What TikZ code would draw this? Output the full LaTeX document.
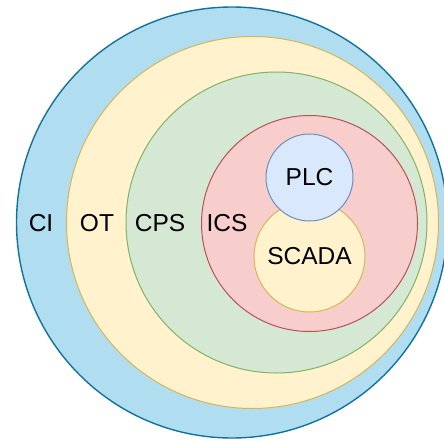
\documentclass[tikz,border=0pt]{standalone}
\usepackage{fontspec}
\setmainfont{Liberation Sans}
\usetikzlibrary{positioning}
\definecolor{ciFill}{HTML}{B1DDF0}
\definecolor{ciLine}{HTML}{10739E}
\definecolor{otFill}{HTML}{FFF2CC}
\definecolor{otLine}{HTML}{D6B656}
\definecolor{cpsFill}{HTML}{D5E8D4}
\definecolor{cpsLine}{HTML}{82B366}
\definecolor{icsFill}{HTML}{F8CECC}
\definecolor{icsLine}{HTML}{B85450}
\definecolor{plcFill}{HTML}{DAE8FC}
\definecolor{plcLine}{HTML}{6C8EBF}
\begin{document}
\begin{tikzpicture}[x=1pt, y=-1pt]
  \tikzstyle{ring}=[circle, draw, line width=1pt, inner sep=0pt]
  \tikzstyle{tag}=[font=\fontsize{24.5}{28}\selectfont, inner sep=0pt]
  \useasboundingbox (0,0) rectangle (444,439);
  \clip (0,0) rectangle (444,439);
  \node[ring, fill=ciFill, draw=ciLine, line width=1.4pt, minimum size=431pt] (CI) at (232,222.5) {};
  \node[ring, fill=otFill, draw=otLine, minimum size=372pt] (OT) at (252.5,222.5) {};
  \node[ring, fill=cpsFill, draw=cpsLine, minimum size=301pt] (CPS) at (276.5,222.5) {};
  \node[ring, fill=icsFill, draw=icsLine, minimum size=216pt] (ICS) at (309.5,223.5) {};
  \node[ring, fill=otFill, draw=otLine, minimum size=111pt] (SCADA) at (309.5,256.5) {};
  \node[ring, fill=plcFill, draw=plcLine, minimum size=87pt] (PLC) at (309.5,177.5) {};
  % labels
  \node[tag] (ci label) at (41,223) {CI};
  \node[tag] (ot label) at (97,223) {OT};
  \node[tag] (cps label) at (160,223) {CPS};
  \node[tag] (ics label) at (227,223) {ICS};
  \node[tag] (plc label) at (PLC) {PLC};
  \node[tag] (scada label) at (SCADA) {SCADA};
\end{tikzpicture}
\end{document}
